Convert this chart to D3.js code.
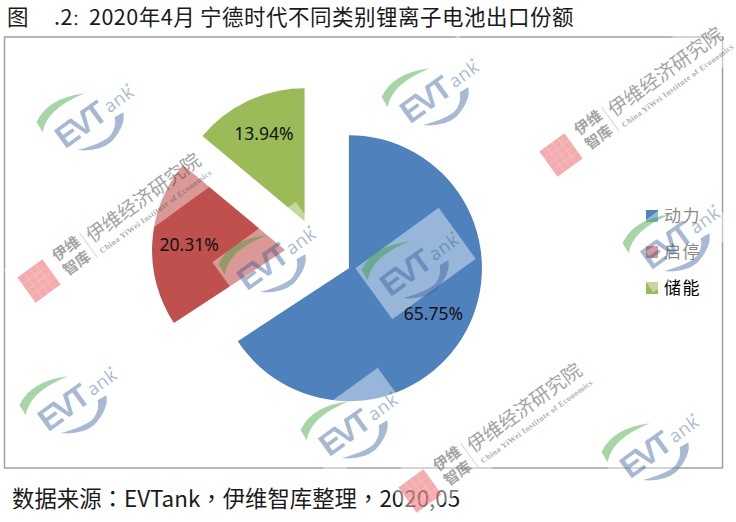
<!DOCTYPE html>
<html>
<head>
<meta charset="utf-8">
<script src="https://cdn.jsdelivr.net/npm/d3@7"></script>
<style>
  html, body { margin: 0; padding: 0; background: #fff; }
  svg { display: block; }
</style>
</head>
<body>
<div id="chart"></div>
<script>
// 1: DATA
const categories = ["动力", "启停", "储能"];
const shares = [65.75, 20.31, 13.94];
const shareLabels = ["65.75%", "20.31%", "13.94%"];
const colors = ["#4f81bd", "#c0504d", "#9bbb59"];
const titleParts = ["图", ".2", "：", "2020年4月", "宁德时代不同类别锂离子电池出口份额"];
const sourceText = "数据来源：EVTank，伊维智库整理，2020,05";

// watermark spots, centre of each stamp
const logoSpots = [[86, 117], [431, 92], [651, 447], [69, 400], [350, 425], [268, 259], [411, 265], [672, 238]];
const brandSpots = [[561, 155], [39, 281], [420, 491]];

// 2: SVG
const svg = d3.select("#chart").append("svg")
    .attr("width", 736)
    .attr("height", 522);

const cjk = "'Noto Sans CJK SC', 'Noto Sans', sans-serif";
const cjkPunct = "'Noto Sans CJK TC', sans-serif"; // colon and comma sit centred in the source

// title, one character is hidden in the source picture so the parts are placed apart
const titleX = d3.scaleOrdinal().domain(titleParts).range([7, 54, 72, 89, 200]);
svg.append("text")
    .attr("y", 25)
    .style("font-family", cjk)
    .style("font-size", "21.5px")
    .style("letter-spacing", "0.5px")
    .attr("fill", "#1a1a1a")
    .selectAll("tspan")
    .data(titleParts)
    .enter()
    .append("tspan")
    .attr("x", d => titleX(d))
    .style("font-size", d => d === "：" ? "15.5px" : null)
    .text(d => d);

// chart frame
svg.append("rect")
    .attr("x", 4.5)
    .attr("y", 37)
    .attr("width", 718)
    .attr("height", 431)
    .attr("fill", "#fff")
    .attr("stroke", "#a0a0a0")
    .attr("stroke-width", 1.5);

// 3: PIE
const cx = 319, cy = 252;
const radius = 133;
const explode = 34;

const pie = d3.pie().sort(null).value(d => d);
const arc = d3.arc().innerRadius(0).outerRadius(radius);
const labelArc = d3.arc().innerRadius(96).outerRadius(96);

const slices = svg.append("g")
    .attr("transform", `translate(${cx},${cy})`)
    .selectAll("g")
    .data(pie(shares))
    .enter()
    .append("g")
    .attr("transform", d => {
        const mid = (d.startAngle + d.endAngle) / 2;
        return `translate(${Math.sin(mid) * explode},${-Math.cos(mid) * explode})`;
    });

slices.append("path")
    .attr("d", arc)
    .attr("fill", (d, i) => colors[i]);

slices.append("text")
    .attr("transform", d => `translate(${labelArc.centroid(d)})`)
    .attr("text-anchor", "middle")
    .attr("dy", "0.35em")
    .style("font-family", "'Noto Sans', sans-serif")
    .style("font-size", "17.5px")
    .attr("fill", "#111")
    .text((d, i) => shareLabels[i]);

// 4: LEGEND
const legendY = d3.scalePoint().domain(categories).range([216, 288]);
const legend = svg.selectAll(".legend")
    .data(categories)
    .enter()
    .append("g")
    .attr("class", "legend")
    .attr("transform", d => `translate(646,${legendY(d)})`);
legend.append("rect")
    .attr("y", -6)
    .attr("width", 12)
    .attr("height", 12)
    .attr("fill", (d, i) => colors[i]);
legend.append("text")
    .attr("x", 18)
    .attr("dy", "0.36em")
    .style("font-family", cjk)
    .style("font-size", "17px")
    .style("letter-spacing", "1.5px")
    .attr("fill", (d, i) => i === 2 ? "#000" : "#333")
    .text(d => d);

// source line
svg.append("text")
    .attr("x", 12)
    .attr("y", 507)
    .style("font-family", cjk)
    .style("font-size", "22.4px")
    .attr("fill", "#1a1a1a")
    .selectAll("tspan")
    .data(sourceText.split(/([：，])/))
    .enter()
    .append("tspan")
    .style("font-family", d => /[：，]/.test(d) ? cjkPunct : cjk)
    .text(d => d);

// 5: WATERMARKS
// dark colours at low alpha, so they read pale on white and darken the slices below
const logoBlue = "#2f5a96";
const logoGreen = "#2f9a2a";
const inkAlpha = 0.42;

const logos = svg.selectAll(".logo")
    .data(logoSpots)
    .enter()
    .append("g")
    .attr("class", "logo")
    .attr("transform", d => `translate(${d[0]},${d[1]}) rotate(-36)`);
logos.append("rect")
    .attr("x", -47)
    .attr("y", -30)
    .attr("width", 103)
    .attr("height", 63)
    .attr("fill", "#fff")
    .attr("opacity", 0.42);
logos.append("path")
    .attr("d", "M-44,-13 L-43,-25 Q-20,-38 13,-20 Q-28,-30 -44,-13 Z")
    .attr("fill", logoGreen)
    .attr("opacity", inkAlpha);
logos.append("path")
    .attr("d", "M-26,22 Q0,32 10,29 Q20,25 23,17 L33,18 Q28,30 6,35 Q-10,36 -26,22 Z")
    .attr("fill", logoBlue)
    .attr("opacity", inkAlpha);
logos.append("text")
    .attr("x", -36)
    .attr("y", 14)
    .style("font-family", "'Liberation Sans', sans-serif")
    .style("font-size", "32px")
    .style("font-weight", "bold")
    .style("letter-spacing", "-3.5px")
    .attr("fill", logoBlue)
    .attr("opacity", inkAlpha)
    .text("EVT");
logos.append("text")
    .attr("x", 21)
    .attr("y", 11)
    .style("font-family", "'Open Sans', sans-serif")
    .style("font-size", "18px")
    .style("letter-spacing", "0.6px")
    .attr("fill", logoBlue)
    .attr("opacity", inkAlpha)
    .text("ank");
logos.append("circle")
    .attr("cx", 52)
    .attr("cy", -2)
    .attr("r", 1.5)
    .attr("fill", logoGreen)
    .attr("opacity", inkAlpha);

const brands = svg.selectAll(".brand")
    .data(brandSpots)
    .enter()
    .append("g")
    .attr("class", "brand")
    .attr("transform", d => `translate(${d[0]},${d[1]}) rotate(-36)`);
brands.append("rect")
    .attr("x", -22)
    .attr("y", -30)
    .attr("width", 232)
    .attr("height", 54)
    .attr("fill", "#fff")
    .attr("opacity", 0.42);
brands.append("rect")
    .attr("x", -15.5)
    .attr("y", -15.5)
    .attr("width", 31)
    .attr("height", 31)
    .attr("fill", "#e8474d")
    .attr("opacity", 0.45);
brands.append("path")
    .attr("d", "M-15,-7H15M-15,0H15M-15,7H15M-7,-15V15M0,-15V15M7,-15V15")
    .attr("stroke", "#fff")
    .attr("stroke-opacity", 0.25)
    .attr("stroke-width", 0.8);
brands.append("text")
    .attr("x", 26)
    .attr("y", -5)
    .style("font-family", cjk)
    .style("font-size", "15px")
    .style("font-weight", "bold")
    .attr("fill", "#4a4a4a")
    .attr("opacity", 0.5)
    .text("伊维");
brands.append("text")
    .attr("x", 26)
    .attr("y", 13)
    .style("font-family", cjk)
    .style("font-size", "15px")
    .style("font-weight", "bold")
    .attr("fill", "#4a4a4a")
    .attr("opacity", 0.5)
    .text("智库");
brands.append("line")
    .attr("x1", 61)
    .attr("x2", 61)
    .attr("y1", -15)
    .attr("y2", 15)
    .attr("stroke", "#f3c9ca");
brands.append("text")
    .attr("x", 65)
    .attr("y", 1)
    .style("font-family", cjk)
    .style("font-size", "19.5px")
    .attr("fill", "#4a4a4a")
    .attr("opacity", 0.5)
    .text("伊维经济研究院");
brands.append("text")
    .attr("x", 67)
    .attr("y", 15)
    .attr("textLength", 136)
    .style("font-family", "'Liberation Serif', serif")
    .style("font-size", "8px")
    .style("font-weight", "bold")
    .attr("fill", "#4a4a4a")
    .attr("opacity", 0.45)
    .text("China YiWei Institute of Economics");
</script>
</body>
</html>
